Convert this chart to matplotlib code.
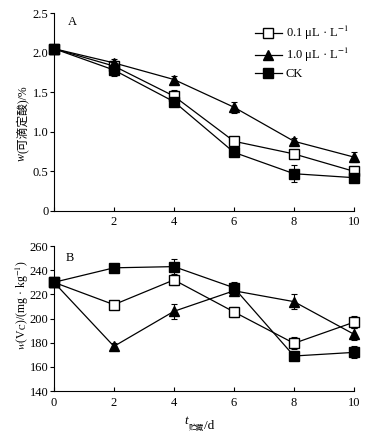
import numpy as np
import matplotlib.pyplot as plt
from matplotlib.lines import Line2D

plt.rcParams['font.family'] = ['Liberation Serif', 'Noto Sans CJK SC', 'DejaVu Sans']
plt.rcParams['mathtext.fontset'] = 'stix'

days = [0, 2, 4, 6, 8, 10]

# A: 可滴定酸 (%)
ta_01 = [2.05, 1.83, 1.45, 0.88, 0.72, 0.50]
ta_01_err = [0.02, 0.04, 0.08, 0.03, 0.03, 0.05]
ta_10 = [2.05, 1.87, 1.66, 1.31, 0.88, 0.68]
ta_10_err = [0.02, 0.05, 0.04, 0.07, 0.04, 0.06]
ta_ck = [2.05, 1.78, 1.38, 0.74, 0.47, 0.42]
ta_ck_err = [0.02, 0.07, 0.06, 0.04, 0.11, 0.05]

# B: Vc (mg/kg)
vc_01 = [230, 211.5, 232, 205.5, 179.5, 197]
vc_01_err = [2, 2, 4, 4, 5, 5]
vc_10 = [230, 177, 206, 223, 214, 187]
vc_10_err = [2, 3, 6, 3, 6, 5]
vc_ck = [230, 242, 243, 225.5, 169, 172]
vc_ck_err = [2, 3, 6, 5, 3, 5]

labels = ['0.1 μL · L$^{-1}$', '1.0 μL · L$^{-1}$', 'CK']
styles = [dict(marker='s', mfc='white', ms=7.5),
          dict(marker='^', mfc='black', ms=7),
          dict(marker='s', mfc='black', ms=7.5)]

fig = plt.figure(figsize=(3.77, 4.34), dpi=100)
ax1 = fig.add_axes([0.143, 0.514, 0.796, 0.456])
ax2 = fig.add_axes([0.143, 0.099, 0.796, 0.334])

def draw(ax, series):
    for (y, e), st in zip(series, styles):
        ax.errorbar(days, y, yerr=e, color='black', mec='black', lw=0.9,
                    elinewidth=0.8, capsize=2.5, capthick=0.8,
                    clip_on=False, zorder=3, **st)
    for s in ['top', 'right']:
        ax.spines[s].set_visible(False)
    ax.tick_params(axis='x', direction='in', length=3, labelsize=9, pad=4)
    ax.tick_params(axis='y', direction='out', length=3, labelsize=9, pad=1)
    ax.set_xlim(0, 10)
    ax.set_xticks(days)

draw(ax1, [(ta_01, ta_01_err), (ta_10, ta_10_err), (ta_ck, ta_ck_err)])
ax1.set_ylim(0, 2.5)
ax1.set_yticks([0, 0.5, 1.0, 1.5, 2.0, 2.5])
ax1.set_yticklabels(['0', '0.5', '1.0', '1.5', '2.0', '2.5'])
ax1.set_xticklabels(['', '2', '4', '6', '8', '10'])
ax1.text(0.045, 0.985, 'A', transform=ax1.transAxes, fontsize=9, va='top')
handles = [Line2D([], [], color='black', lw=0.9, mec='black', **st) for st in styles]
ax1.legend(handles, labels, loc='upper right', bbox_to_anchor=(1.02, 1.0), frameon=False,
           fontsize=9, handlelength=2.2, handletextpad=0.3, labelspacing=0.3)

draw(ax2, [(vc_01, vc_01_err), (vc_10, vc_10_err), (vc_ck, vc_ck_err)])
ax2.set_ylim(140, 260)
ax2.set_yticks(np.arange(140, 261, 20))
ax2.text(0.04, 0.96, 'B', transform=ax2.transAxes, fontsize=9, va='top')

# y label A: w(可滴定酸)/%
t1 = fig.text(0.058, 0.63, 'w', rotation=90, fontsize=8.5, style='italic',
              ha='center', va='bottom')
ax1.annotate('(可滴定酸)/%', xy=(0.5, 1), xycoords=t1, rotation=90, fontsize=8.5,
             ha='center', va='bottom')

# y label B
fig.text(0.058, 0.297, r'$w$(V$_\mathrm{C}$)/(mg · kg$^{-1}$)', rotation=90,
         fontsize=8.5, ha='center', va='center')

# x label: t_贮藏/d
t2 = fig.text(0.49, 0.023, 't', fontsize=9.5, style='italic', ha='left', va='baseline')
t3 = ax2.annotate('贮藏', xy=(1, 0), xycoords=t2, xytext=(0.3, -2),
                  textcoords='offset points', fontsize=5.5, ha='left', va='baseline')
ax2.annotate('/d', xy=(1, 0), xycoords=t3, xytext=(0.3, 2),
             textcoords='offset points', fontsize=9.5, ha='left', va='baseline')

fig.savefig('out.png', dpi=100)
